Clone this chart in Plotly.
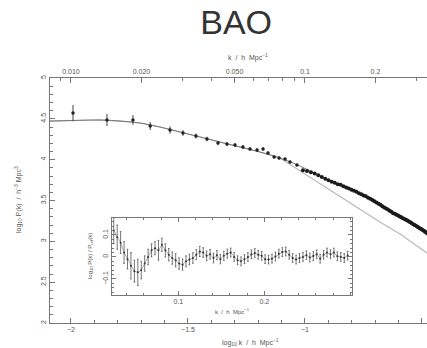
import plotly.graph_objects as go

# ---------------- data ----------------
# large-scale band powers (k in h/Mpc, log10 P)
k_large = [0.0102, 0.01425, 0.0184, 0.0218, 0.0265, 0.0301, 0.0342, 0.0381, 0.0425,
           0.0464, 0.0502, 0.0543, 0.0582, 0.0624, 0.0662, 0.0695, 0.0738, 0.0775,
           0.0822, 0.0863, 0.0924]
logP_large = [4.571, 4.486, 4.486, 4.412, 4.363, 4.327, 4.29, 4.253, 4.204,
              4.192, 4.18, 4.155, 4.131, 4.118, 4.131, 4.082, 4.033, 4.020,
              4.008, 3.971, 3.935]
err_large = [0.10, 0.075, 0.06, 0.05, 0.045, 0.035, 0.03, 0.028, 0.026,
             0.025, 0.024, 0.022, 0.021, 0.02, 0.02, 0.019, 0.018, 0.018,
             0.017, 0.016, 0.016]

# small-scale dense band powers
k_dense = [0.098, 0.102, 0.106, 0.110, 0.114, 0.118, 0.122, 0.126, 0.130, 0.134,
           0.138, 0.142, 0.146, 0.150, 0.154, 0.158, 0.162, 0.166, 0.170, 0.174,
           0.178, 0.182, 0.186, 0.190, 0.194, 0.198, 0.202, 0.206, 0.210, 0.214,
           0.218, 0.222, 0.226, 0.230, 0.234, 0.238, 0.242, 0.246, 0.250, 0.254,
           0.258, 0.262, 0.266, 0.270, 0.274, 0.278, 0.282, 0.286, 0.290, 0.294,
           0.298, 0.302, 0.306, 0.310, 0.314, 0.318, 0.322, 0.326, 0.330, 0.334]
logP_dense = [3.87, 3.862, 3.845, 3.832, 3.81, 3.787, 3.765, 3.747, 3.73, 3.716,
              3.70, 3.692, 3.675, 3.66, 3.647, 3.633, 3.62, 3.607, 3.59, 3.577,
              3.56, 3.552, 3.535, 3.52, 3.507, 3.49, 3.477, 3.46, 3.447, 3.43,
              3.415, 3.402, 3.39, 3.375, 3.362, 3.345, 3.337, 3.325, 3.315, 3.303,
              3.295, 3.283, 3.275, 3.263, 3.255, 3.243, 3.235, 3.222, 3.21, 3.2,
              3.19, 3.178, 3.17, 3.158, 3.15, 3.138, 3.13, 3.118, 3.105, 3.095]
err_dense = [0.014] * len(k_dense)

# model curves
k_model = [0.00813, 0.0102, 0.0133, 0.0162, 0.0197, 0.0240, 0.0292, 0.0356, 0.0433,
           0.0527, 0.0642, 0.0782, 0.0953, 0.116, 0.141, 0.172, 0.209, 0.255, 0.332]
logP_nonlin = [4.473, 4.480, 4.486, 4.473, 4.449, 4.400, 4.339, 4.278, 4.216,
               4.155, 4.094, 4.020, 3.922, 3.800, 3.69, 3.58, 3.445, 3.31, 3.10]
logP_lin = [4.473, 4.480, 4.486, 4.473, 4.449, 4.400, 4.339, 4.278, 4.216,
            4.155, 4.094, 4.020, 3.861, 3.702, 3.555, 3.396, 3.237, 3.090, 2.857]

# inset: ratio data
k_inset = [0.025, 0.029, 0.033, 0.037, 0.041, 0.045, 0.049, 0.053, 0.057, 0.061,
           0.065, 0.069, 0.073, 0.077, 0.081, 0.085, 0.089, 0.093, 0.097, 0.101,
           0.105, 0.109, 0.113, 0.117, 0.121, 0.125, 0.129, 0.133, 0.137, 0.141,
           0.145, 0.149, 0.153, 0.157, 0.161, 0.165, 0.169, 0.173, 0.177, 0.181,
           0.185, 0.189, 0.193, 0.197, 0.201, 0.205, 0.209, 0.213, 0.217, 0.221,
           0.225, 0.229, 0.233, 0.237, 0.241, 0.245, 0.249, 0.253, 0.257, 0.261,
           0.265, 0.269, 0.273, 0.277, 0.281, 0.285, 0.289, 0.293, 0.297]
ratio_inset = [0.12, 0.09, 0.065, 0.02, -0.01, -0.04, -0.065, -0.07, -0.06, -0.03,
               0.0, 0.03, 0.04, 0.03, 0.055, 0.03, 0.01, -0.005, -0.015, -0.03,
               -0.035, -0.02, -0.012, -0.005, 0.01, 0.025, 0.02, 0.005, 0.012, -0.005,
               0.008, -0.01, 0.005, 0.015, 0.02, 0.0, -0.015, -0.02, -0.01, 0.0,
               0.012, 0.018, 0.01, 0.005, -0.01, -0.012, -0.008, 0.002, 0.015, 0.022,
               0.025, 0.01, -0.005, -0.012, -0.005, 0.0, 0.008, -0.003, 0.004, 0.012,
               -0.008, 0.01, 0.02, 0.012, 0.02, 0.003, 0.0, -0.005, 0.006]
err_inset = [0.06, 0.055, 0.05, 0.05, 0.045, 0.06, 0.05, 0.06, 0.04, 0.035,
             0.035, 0.03, 0.03, 0.045, 0.03, 0.03, 0.028, 0.028, 0.03, 0.026,
             0.025, 0.025, 0.024, 0.024, 0.023, 0.023, 0.022, 0.022, 0.022, 0.022,
             0.021, 0.021, 0.021, 0.021, 0.02, 0.02, 0.02, 0.02, 0.02, 0.02,
             0.02, 0.02, 0.02, 0.02, 0.02, 0.02, 0.02, 0.02, 0.02, 0.02,
             0.02, 0.02, 0.02, 0.02, 0.02, 0.02, 0.02, 0.02, 0.02, 0.02,
             0.02, 0.02, 0.02, 0.02, 0.02, 0.02, 0.02, 0.02, 0.02]

bottom_ticks = [-2, -1.5, -1, -0.5]
bottom_labels = ["\u22122", "\u22121.5", "\u22121", "\u22120.5"]
top_ticks = [0.01, 0.02, 0.05, 0.1, 0.2]
top_labels = ["0.010", "0.020", "0.050", "0.1", "0.2"]
top_minor = [0.009, 0.03, 0.04, 0.06, 0.07, 0.08, 0.09, 0.3]
y_ticks = [2, 2.5, 3, 3.5, 4, 4.5, 5]
y_labels = ["2", "2.5", "3", "3.5", "4", "4.5", "5"]
inset_xticks = [0.1, 0.2]
inset_yticks = [-0.1, 0, 0.1]
inset_ylabels = ["\u22120.1", "0", "0.1"]

# ---------------- figure ----------------
AX = "#777777"
TXT = "#555555"
FONT = "Liberation Sans"
fig = go.Figure()

# dummy trace so the linear log10 k axis renders
fig.add_trace(go.Scatter(x=[bottom_ticks[0], bottom_ticks[-1]], y=[y_ticks[0], y_ticks[0]],
                         mode="markers", marker=dict(opacity=0), hoverinfo="skip",
                         showlegend=False, xaxis="x", yaxis="y"))

fig.add_trace(go.Scatter(x=k_model, y=logP_lin, mode="lines",
                         line=dict(color="#b8b8b8", width=1.2), showlegend=False,
                         xaxis="x2", yaxis="y"))
fig.add_trace(go.Scatter(x=k_model, y=logP_nonlin, mode="lines",
                         line=dict(color="#777777", width=1), line_shape="spline",
                         showlegend=False, xaxis="x2", yaxis="y"))
fig.add_trace(go.Scatter(x=k_large, y=logP_large, mode="markers",
                         marker=dict(color="#222222", size=3.5),
                         error_y=dict(type="data", array=err_large, color="#444444",
                                      thickness=1, width=0),
                         showlegend=False, xaxis="x2", yaxis="y"))
fig.add_trace(go.Scatter(x=k_dense, y=logP_dense, mode="markers",
                         marker=dict(color="#1a1a1a", size=4),
                         error_y=dict(type="data", array=err_dense, color="#222222",
                                      thickness=1, width=0),
                         showlegend=False, xaxis="x2", yaxis="y"))

# inset
fig.add_trace(go.Scatter(x=k_inset, y=ratio_inset, mode="lines+markers",
                         line=dict(color="#777777", width=0.6),
                         marker=dict(color="#333333", size=2),
                         error_y=dict(type="data", array=err_inset, color="#555555",
                                      thickness=0.8, width=0.8),
                         showlegend=False, xaxis="x3", yaxis="y3"))

XR = [-2.0897, -0.4786]
tickfont = dict(family=FONT, size=7, color=TXT)

fig.update_layout(
    width=427, height=348,
    margin=dict(l=50, r=0, t=78, b=25),
    paper_bgcolor="white", plot_bgcolor="white",
    font=dict(family=FONT, color=TXT),
    title=dict(text="BAO", x=0.553, xanchor="center", y=0.937, yanchor="middle",
               font=dict(family=FONT, size=34, color="#333333")),
    xaxis=dict(range=XR, tickmode="array", tickvals=bottom_ticks, ticktext=bottom_labels,
               ticks="inside", ticklen=5, tickcolor=AX, showline=True, linecolor=AX,
               linewidth=1, showgrid=False, zeroline=False, tickfont=tickfont,
               minor=dict(dtick=0.1, tick0=0, ticks="inside", ticklen=3, tickcolor=AX),
               anchor="y"),
    xaxis2=dict(type="log", range=XR, overlaying="x", side="top", anchor="y",
                tickmode="array", tickvals=top_ticks, ticktext=top_labels,
                ticks="inside", ticklen=5, tickcolor=AX, showline=True, linecolor=AX,
                linewidth=1, showgrid=False, zeroline=False, tickfont=tickfont,
                minor=dict(tickmode="array", tickvals=top_minor, ticks="inside",
                           ticklen=3, tickcolor=AX)),
    yaxis=dict(range=[2, 5], tickmode="array", tickvals=y_ticks, ticktext=y_labels,
               tickangle=-90, ticks="inside", ticklen=5, tickcolor=AX,
               showline=True, linecolor=AX, linewidth=1, showgrid=False,
               zeroline=False, tickfont=tickfont,
               minor=dict(dtick=0.1, tick0=0, ticks="inside", ticklen=3, tickcolor=AX)),
    xaxis3=dict(domain=[0.1645, 0.801], anchor="y3", range=[0.023, 0.302],
                tickmode="array", tickvals=inset_xticks, ticks="inside", ticklen=4,
                tickcolor=AX, showline=True, mirror="ticks", linecolor=AX, linewidth=1,
                showgrid=False, zeroline=False, tickfont=tickfont,
                minor=dict(dtick=0.02, tick0=0, ticks="inside", ticklen=2, tickcolor=AX)),
    yaxis3=dict(domain=[0.1143, 0.4286], anchor="x3", range=[-0.173, 0.177],
                tickmode="array", tickvals=inset_yticks, ticktext=inset_ylabels,
                tickangle=-90, ticks="inside", ticklen=4, tickcolor=AX, showline=True,
                mirror="ticks", linecolor=AX, linewidth=1, showgrid=False,
                zeroline=False, tickfont=tickfont,
                minor=dict(dtick=0.02, tick0=0, ticks="inside", ticklen=2, tickcolor=AX)),
    annotations=[
        dict(text="k  /  h  Mpc<sup>\u22121</sup>", xref="paper", yref="paper",
             x=(248 - 50) / 377, y=(323 - 58) / 245, showarrow=False,
             xanchor="center", yanchor="middle", font=dict(family=FONT, size=7, color=TXT)),
        dict(text="log<sub>10</sub> k  /  h  Mpc<sup>\u22121</sup>", xref="paper", yref="paper",
             x=(250 - 50) / 377, y=(323 - 342) / 245, showarrow=False,
             xanchor="center", yanchor="middle", font=dict(family=FONT, size=7, color=TXT)),
        dict(text="log<sub>10</sub> P(k)  /  h<sup>\u22123</sup> Mpc<sup>3</sup>",
             xref="paper", yref="paper", x=(18 - 50) / 377, y=(323 - 200) / 245,
             textangle=-90, showarrow=False, xanchor="center", yanchor="middle",
             font=dict(family=FONT, size=7, color=TXT)),
        dict(text="k  /  h  Mpc<sup>\u22121</sup>", xref="paper", yref="paper",
             x=(232 - 50) / 377, y=(323 - 311) / 245, showarrow=False,
             xanchor="center", yanchor="middle", font=dict(family=FONT, size=6, color=TXT)),
        dict(text="log<sub>10</sub> P(k) / P<sub>ref</sub>(k)",
             xref="paper", yref="paper", x=(90 - 50) / 377, y=(323 - 256) / 245,
             textangle=-90, showarrow=False, xanchor="center", yanchor="middle",
             font=dict(family=FONT, size=6, color=TXT)),
    ],
)

fig.write_html("out.html")
